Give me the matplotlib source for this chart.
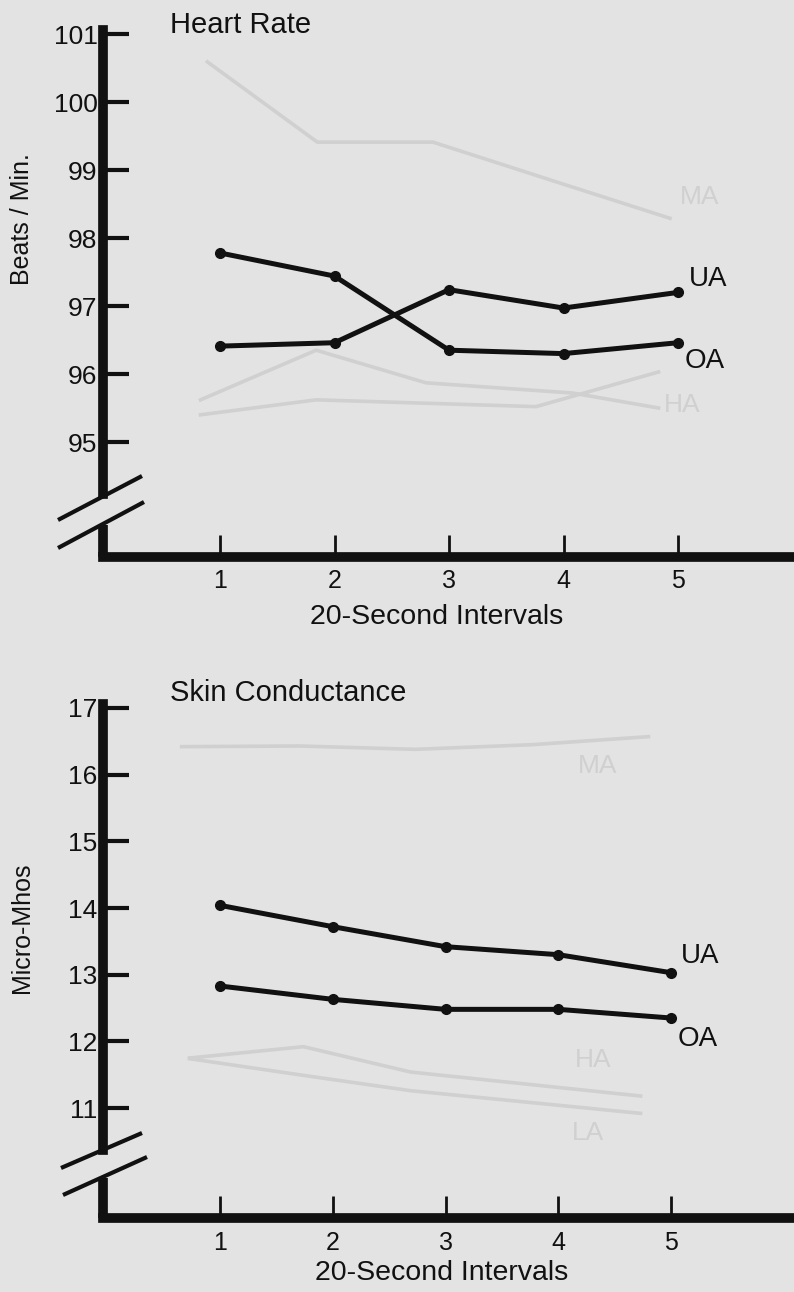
import matplotlib
matplotlib.use("Agg")
import matplotlib.pyplot as plt
from matplotlib.lines import Line2D

BG = "#e3e3e3"
INK = "#111111"
GHOST = "#d0d0d0"

W, H, DPI = 794, 1292, 100

plt.rcParams["font.family"] = ["Liberation Sans", "DejaVu Sans"]

# ---- data ----
intervals = [1, 2, 3, 4, 5]

# Heart rate, beats / min
hr_ua = [96.41, 96.46, 97.24, 96.97, 97.20]
hr_oa = [97.78, 97.44, 96.35, 96.30, 96.46]
hr_ticks = [95, 96, 97, 98, 99, 100, 101]

# Skin conductance, micro-mhos
sc_ua = [14.04, 13.72, 13.42, 13.30, 13.03]
sc_oa = [12.83, 12.63, 12.48, 12.48, 12.35]
sc_ticks = [11, 12, 13, 14, 15, 16, 17]

# faint show-through of the facing page
hr_ghost_ma_x = [0.89, 1.85, 2.86, 3.91, 4.93]
hr_ghost_ma = [100.59, 99.41, 99.41, 98.84, 98.29]
hr_ghost_a_x = [0.83, 1.84, 2.80, 4.08, 4.83]
hr_ghost_a = [95.62, 96.35, 95.87, 95.72, 95.50]
hr_ghost_b_x = [0.83, 1.84, 3.76, 4.83]
hr_ghost_b = [95.40, 95.62, 95.52, 96.03]

sc_ghost_ma_x = [0.66, 1.71, 2.73, 3.77, 4.80]
sc_ghost_ma = [16.42, 16.43, 16.38, 16.45, 16.57]
sc_ghost_ha_x = [0.73, 1.74, 2.69, 4.73]
sc_ghost_ha = [11.75, 11.92, 11.54, 11.18]
sc_ghost_la_x = [0.73, 1.74, 2.69, 4.73]
sc_ghost_la = [11.74, 11.49, 11.26, 10.92]


fig = plt.figure(figsize=(W / DPI, H / DPI), dpi=DPI)
fig.patch.set_facecolor(BG)


def px(x, y):
    return x / W, 1 - y / H


def seg(x0, y0, x1, y1, lw, cap="butt"):
    (a, b), (c, d) = px(x0, y0), px(x1, y1)
    fig.add_artist(Line2D([a, c], [b, d], color=INK, lw=lw, solid_capstyle=cap))


def make_axes(top_px, bottom_px, x1_px, x_step, ytop_val, ytop_px, y_step, left_px=103):
    ax = fig.add_axes([left_px / W, 1 - bottom_px / H, (W - left_px) / W, (bottom_px - top_px) / H])
    ax.set_facecolor("none")
    ax.set_xlim(1 - (x1_px - left_px) / x_step, 1 + (W - x1_px) / x_step)
    ax.set_ylim(ytop_val - (bottom_px - ytop_px) / y_step, ytop_val + (ytop_px - top_px) / y_step)
    for s in ["top", "right", "left"]:
        ax.spines[s].set_visible(False)
    ax.spines["bottom"].set_linewidth(7)
    ax.spines["bottom"].set_color(INK)
    ax.spines["bottom"].set_capstyle("projecting")
    ax.tick_params(axis="y", direction="in", length=19, width=3, pad=4,
                   labelsize=19, colors=INK)
    ax.tick_params(axis="x", direction="in", length=16, width=2, pad=9,
                   labelsize=18, colors=INK)
    ax.set_xticks(intervals)
    return ax


def draw_series(ax, ys, label, dx, dy):
    ax.plot(intervals, ys, color=INK, lw=3.6, marker="o", markersize=7, zorder=5,
            solid_joinstyle="round")
    ax.annotate(label, xy=(intervals[-1], ys[-1]), xytext=(dx, dy), textcoords="offset points",
                ha="left", va="center", fontsize=20, color=INK)


def ghost(ax, xs, ys):
    ax.plot(xs, ys, color=GHOST, lw=2.6, zorder=1, solid_joinstyle="round")


# ── Heart rate ──
ax1 = make_axes(30, 557, 220, 114.5, 101, 34, 68)
ghost(ax1, hr_ghost_ma_x, hr_ghost_ma)
ghost(ax1, hr_ghost_a_x, hr_ghost_a)
ghost(ax1, hr_ghost_b_x, hr_ghost_b)
ax1.text(5.02, 98.6, "MA", color=GHOST, fontsize=19, va="center")
ax1.text(4.88, 95.55, "HA", color=GHOST, fontsize=19, va="center")
draw_series(ax1, hr_ua, "UA", 8, 10)
draw_series(ax1, hr_oa, "OA", 5, -13.5)
ax1.set_yticks(hr_ticks)

seg(103, 30, 103, 494, 7, "projecting")
seg(103, 525, 103, 557, 7)
seg(58, 520, 142, 476, 3)
seg(58, 548, 144, 502, 3)

fig.text(*px(170, 25), "Heart Rate", fontsize=21, va="center", ha="left", color=INK)
fig.text(*px(22, 219), "Beats / Min.", fontsize=18, rotation=90, va="center", ha="center", color=INK)
fig.text(*px(437, 617), "20-Second Intervals", fontsize=20.5, va="center", ha="center", color=INK)

# ── Skin conductance ──
ax2 = make_axes(704, 1218, 220, 112.75, 17, 708, 66.67)
ghost(ax2, sc_ghost_ma_x, sc_ghost_ma)
ghost(ax2, sc_ghost_ha_x, sc_ghost_ha)
ghost(ax2, sc_ghost_la_x, sc_ghost_la)
ax2.text(4.17, 16.13, "MA", color=GHOST, fontsize=19, va="center")
ax2.text(4.15, 11.72, "HA", color=GHOST, fontsize=19, va="center")
ax2.text(4.12, 10.63, "LA", color=GHOST, fontsize=19, va="center")
draw_series(ax2, sc_ua, "UA", 7, 12)
draw_series(ax2, sc_oa, "OA", 5, -15)
ax2.set_yticks(sc_ticks)

seg(103, 704, 103, 1150, 7, "projecting")
seg(103, 1178, 103, 1218, 7)
seg(61, 1168, 142, 1133, 3)
seg(63, 1195, 147, 1157, 3)

fig.text(*px(170, 693), "Skin Conductance", fontsize=21, va="center", ha="left", color=INK)
fig.text(*px(22, 928), "Micro-Mhos", fontsize=18, rotation=90, va="center", ha="center", color=INK)
fig.text(*px(442, 1273), "20-Second Intervals", fontsize=20.5, va="center", ha="center", color=INK)

fig.savefig("out.png", dpi=DPI, facecolor=BG)
